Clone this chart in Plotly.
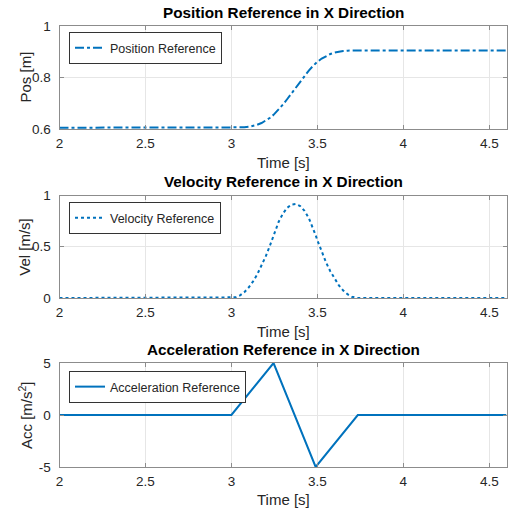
import plotly.graph_objects as go

# ---- data ----
t_pos = [2.0, 3.0, 3.025, 3.05, 3.075, 3.1, 3.125, 3.15, 3.175, 3.2, 3.225, 3.245,
         3.275, 3.3, 3.325, 3.35, 3.375, 3.4, 3.425, 3.45, 3.475, 3.49,
         3.5, 3.525, 3.55, 3.575, 3.6, 3.625, 3.65, 3.675, 3.7, 3.735, 4.6]
pos = [0.605, 0.605, 0.60505, 0.6054, 0.6064, 0.6084, 0.6116, 0.6165, 0.6232, 0.6322, 0.6437, 0.655,
       0.6754, 0.6951, 0.7165, 0.739, 0.7619, 0.7846, 0.8065, 0.8269, 0.8453, 0.855,
       0.8609, 0.8735, 0.8835, 0.8911, 0.8966, 0.9005, 0.9029, 0.9043, 0.9049, 0.905, 0.905]

t_vel = [2.0, 3.0, 3.025, 3.05, 3.075, 3.1, 3.125, 3.15, 3.175, 3.2, 3.225, 3.245,
         3.25, 3.275, 3.3, 3.325, 3.35, 3.375, 3.4, 3.425, 3.45, 3.475, 3.49,
         3.5, 3.525, 3.55, 3.575, 3.6, 3.625, 3.65, 3.675, 3.7, 3.725, 3.735, 4.6]
vel = [0.0, 0.0, 0.0064, 0.0255, 0.057, 0.102, 0.159, 0.2295, 0.312, 0.408, 0.516, 0.612,
       0.6365, 0.744, 0.825, 0.881, 0.912, 0.917, 0.897, 0.851, 0.780, 0.683, 0.6125,
       0.563, 0.450, 0.349, 0.261, 0.186, 0.123, 0.0737, 0.0367, 0.0125, 0.001, 0.0, 0.0]

t_acc = [2.0, 3.0, 3.245, 3.49, 3.735, 4.6]
acc = [0.0, 0.0, 5.0, -5.0, 0.0, 0.0]

x_ticks = [2, 2.5, 3, 3.5, 4, 4.5]
x_tick_text = ["2", "2.5", "3", "3.5", "4", "4.5"]

titles = ["Position Reference in X Direction", "Velocity Reference in X Direction",
          "Acceleration Reference in X Direction"]
ylabels = ["Pos [m]", "Vel [m/s]", "Acc [m/s<sup>2</sup>]"]
names = ["Position Reference", "Velocity Reference", "Acceleration Reference"]

# ---- layout helpers ----
W, H = 510, 512
blue = "#0072BD"
FONT = "Liberation Sans, Arial, sans-serif"
text_color = "#262626"
line_color = "#8c8c8c"

def py(px):
    return 1 - px / H

x_dom = [59.5 / W, 506.5 / W]
y_doms = [[py(129), py(26)], [py(298), py(195.5)], [py(467), py(363)]]
y_ranges = [[0.6, 1], [0, 1], [-5, 5]]
y_ticks = [[0.6, 0.8, 1], [0, 0.5, 1], [-5, 0, 5]]
y_tick_text = [["0.6", "0.8", "1"], ["0", "0.5", "1"], ["-5", "0", "5"]]
title_y = [12, 181, 349]
xlabel_y = [162, 331, 499]
legend_pos = [(69, 32), (69, 202), (69, 371)]

fig = go.Figure()
series = [(t_pos, pos, "dashdot"), (t_vel, vel, "dot"), (t_acc, acc, "solid")]
for i, (tx, ty, dash) in enumerate(series):
    xa = "x" if i == 0 else f"x{i+1}"
    ya = "y" if i == 0 else f"y{i+1}"
    lg = "legend" if i == 0 else f"legend{i+1}"
    fig.add_trace(go.Scatter(x=tx, y=ty, mode="lines", name=names[i],
                             line=dict(color=blue, width=2, dash=dash),
                             xaxis=xa, yaxis=ya, legend=lg, showlegend=True))

layout = dict(width=W, height=H, margin=dict(l=0, r=0, t=0, b=0, autoexpand=False),
              paper_bgcolor="white", plot_bgcolor="white",
              font=dict(family=FONT, size=14, color=text_color))
annotations = []
for i in range(3):
    sfx = "" if i == 0 else str(i + 1)
    common = dict(showgrid=True, gridcolor="#e6e6e6", gridwidth=1,
                  showline=True, linecolor=line_color, linewidth=1, mirror="ticks",
                  ticks="inside", ticklen=4, tickcolor=line_color, automargin=False,
                  tickfont=dict(size=13.5, color=text_color, family=FONT), zeroline=False)
    layout["xaxis" + sfx] = dict(domain=x_dom, range=[2, 4.6], anchor="y" + sfx,
                                 tickvals=x_ticks, ticktext=x_tick_text,
                                 ticklabelstandoff=2, **common)
    layout["yaxis" + sfx] = dict(domain=y_doms[i], range=y_ranges[i], anchor="x" + sfx,
                                 tickvals=y_ticks[i], ticktext=y_tick_text[i],
                                 ticklabelstandoff=5, **common)
    lgkey = "legend" if i == 0 else f"legend{i+1}"
    lx, ly = legend_pos[i]
    layout[lgkey] = dict(x=lx / W, y=py(ly), xanchor="left", yanchor="top",
                         bgcolor="white", bordercolor="#333333", borderwidth=1,
                         font=dict(size=12.5, color=text_color, family=FONT),
                         itemwidth=30, tracegroupgap=0)
    cx = (x_dom[0] + x_dom[1]) / 2
    annotations.append(dict(text="<b>" + titles[i] + "</b>", x=cx, y=py(title_y[i]),
                            xref="paper", yref="paper", showarrow=False,
                            font=dict(size=15.3, color="black", family=FONT),
                            xanchor="center", yanchor="middle"))
    annotations.append(dict(text="Time [s]", x=cx, y=py(xlabel_y[i]),
                            xref="paper", yref="paper", showarrow=False,
                            font=dict(size=15, color=text_color, family=FONT),
                            xanchor="center", yanchor="middle"))
    ymid = (y_doms[i][0] + y_doms[i][1]) / 2
    annotations.append(dict(text=ylabels[i], x=25 / W, y=ymid,
                            xref="paper", yref="paper", showarrow=False, textangle=-90,
                            font=dict(size=15, color=text_color, family=FONT),
                            xanchor="center", yanchor="middle"))
layout["annotations"] = annotations
fig.update_layout(**layout)

fig.write_html("out.html", config={"displayModeBar": False},
               post_script="document.body.style.margin='0px';document.body.style.overflow='hidden';")
